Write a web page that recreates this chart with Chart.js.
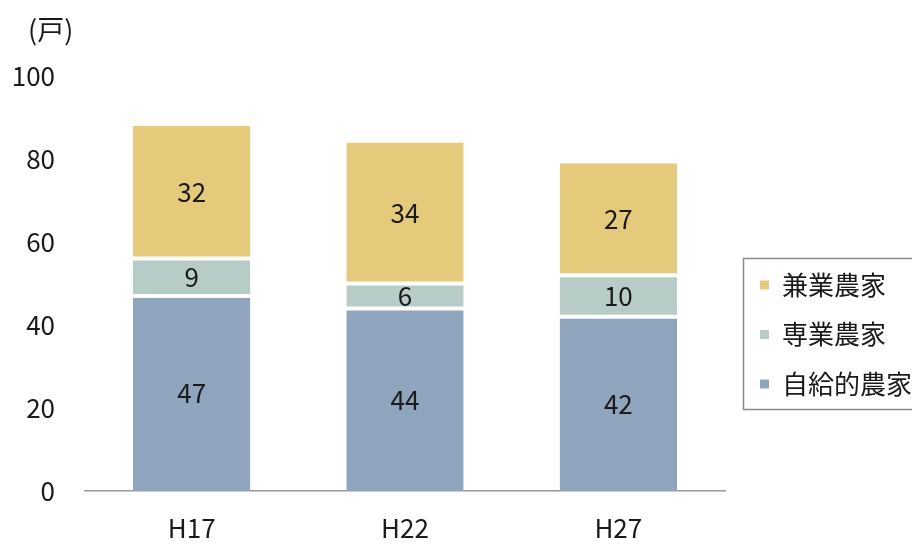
<!DOCTYPE html>
<html>
<head>
<meta charset="utf-8">
<script src="https://cdn.jsdelivr.net/npm/chart.js@4/dist/chart.umd.min.js"></script>
<style>
html,body{margin:0;padding:0;background:#fff;}
#wrap{width:912px;height:544px;position:relative;}
</style>
</head>
<body>
<div id="wrap"><canvas id="c" width="912" height="544"></canvas></div>
<script>
const categories = ["H17", "H22", "H27"];
const seriesNames = ["自給的農家", "専業農家", "兼業農家"];
const jikyu = [47, 44, 42];
const sengyo = [9, 6, 10];
const kengyo = [32, 34, 27];
const yTicks = [0, 20, 40, 60, 80, 100];
const unitLabel = "(戸)";

const FONT = "'Noto Sans CJK JP', 'DejaVu Sans', sans-serif";
const TEXT = "#1a1a1a";
const colors = ["#8fa5be", "#b8ccc7", "#e6ca7b"];

const labelsPlugin = {
  id: "segLabels",
  afterDatasetsDraw(chart) {
    const ctx = chart.ctx;
    ctx.save();
    ctx.font = "26px " + FONT;
    ctx.fillStyle = TEXT;
    ctx.textAlign = "center";
    ctx.textBaseline = "middle";
    chart.data.datasets.forEach((ds, di) => {
      const meta = chart.getDatasetMeta(di);
      meta.data.forEach((el, i) => {
        const y = (el.y + el.base) / 2;
        ctx.fillText(String(ds.data[i]), el.x, y);
      });
    });
    ctx.restore();
  },
  afterDraw(chart) {
    const ctx = chart.ctx;
    const ca = chart.chartArea;
    ctx.save();
    // unit label
    ctx.font = "27px " + FONT;
    ctx.fillStyle = TEXT;
    ctx.textAlign = "left";
    ctx.textBaseline = "middle";
    ctx.fillText(unitLabel, 28, 30);
    // legend box
    const bx = ca.right + 18, by = 258, bw = 200, bh = 151;
    ctx.strokeStyle = "#8a8a8a";
    ctx.lineWidth = 1.5;
    ctx.strokeRect(bx + 0.5, by + 0.5, bw, bh);
    ctx.font = "26px " + FONT;
    const n = chart.data.datasets.length;
    for (let k = 0; k < n; k++) {
      const di = n - 1 - k;
      const ds = chart.data.datasets[di];
      const cy = 285 + k * 49.5;
      ctx.fillStyle = ds.backgroundColor;
      ctx.fillRect(bx + 17, cy - 4.5, 9, 9);
      ctx.fillStyle = TEXT;
      ctx.fillText(ds.label, bx + 39, cy);
    }
    ctx.restore();
  }
};

function ds(label, data, color, bw) {
  return {
    label: label,
    data: data,
    backgroundColor: color,
    borderColor: "#ffffff",
    borderWidth: bw,
    borderSkipped: false,
    categoryPercentage: 1.0,
    barPercentage: 0.55
  };
}

new Chart(document.getElementById("c"), {
  type: "bar",
  data: {
    labels: categories,
    datasets: [
      ds(seriesNames[0], jikyu, colors[0], {top: 2, bottom: 0, left: 0, right: 0}),
      ds(seriesNames[1], sengyo, colors[1], {top: 2, bottom: 2, left: 0, right: 0}),
      ds(seriesNames[2], kengyo, colors[2], {top: 0, bottom: 2, left: 0, right: 0})
    ]
  },
  options: {
    responsive: false,
    animation: false,
    devicePixelRatio: 1,
    layout: { padding: { top: 76, right: 187, bottom: 0, left: 0 } },
    plugins: { legend: { display: false }, tooltip: { enabled: false }, title: { display: false } },
    scales: {
      x: {
        stacked: true,
        grid: { display: false, drawTicks: false },
        border: { display: true, color: "#9a9a9a", width: 1.5 },
        ticks: { color: TEXT, font: { family: FONT, size: 26 }, padding: 22, maxRotation: 0 },
        afterFit(scale) { scale.height = 53; }
      },
      y: {
        stacked: true,
        min: 0,
        max: 100,
        afterBuildTicks(scale) { scale.ticks = yTicks.map(v => ({ value: v })); },
        grid: { display: false, drawTicks: false },
        border: { display: false },
        ticks: { color: TEXT, font: { family: FONT, size: 26 }, padding: 30 },
        afterFit(scale) { scale.width = 85; }
      }
    }
  },
  plugins: [labelsPlugin]
});
</script>
</body>
</html>
